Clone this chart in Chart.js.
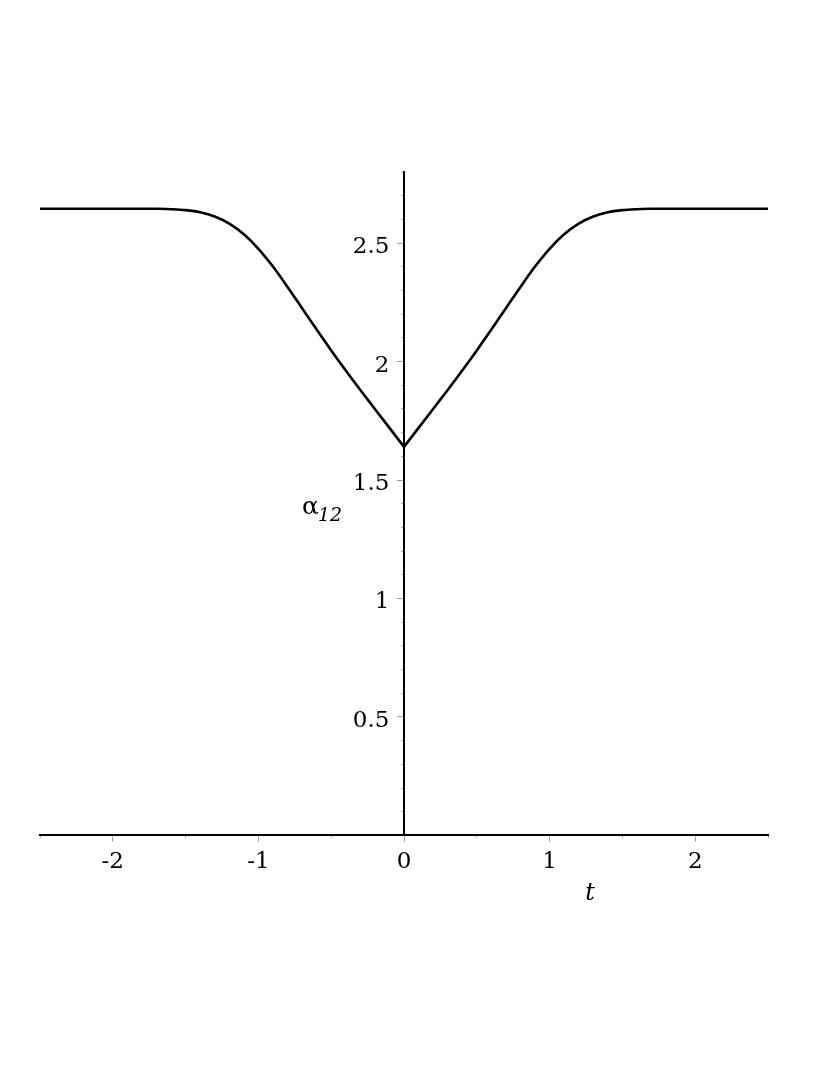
<!DOCTYPE html>
<html>
<head>
<meta charset="utf-8">
<title>alpha12(t)</title>
<script src="https://cdn.jsdelivr.net/npm/chart.js@4"></script>
<style>
  html, body { margin: 0; padding: 0; background: #fff; }
  #plot { display: block; }
</style>
</head>
<body>
<canvas id="plot" width="830" height="1075"></canvas>
<script>
// values (curve is symmetric, cusp at t = 0)
const tValues = [
  -2.5, -2.4, -2.3, -2.2, -2.1, -2.0, -1.9, -1.8, -1.7, -1.6,
  -1.5, -1.4, -1.3, -1.2, -1.1, -1.0, -0.9, -0.8, -0.7, -0.6,
  -0.5, -0.4, -0.3, -0.2, -0.1, 0.0, 0.1, 0.2, 0.3, 0.4,
  0.5, 0.6, 0.7, 0.8, 0.9, 1.0, 1.1, 1.2, 1.3, 1.4,
  1.5, 1.6, 1.7, 1.8, 1.9, 2.0, 2.1, 2.2, 2.3, 2.4, 2.5
];
const alphaValues = [
  2.645, 2.645, 2.645, 2.645, 2.645, 2.645, 2.645, 2.645, 2.645, 2.643,
  2.639, 2.630, 2.612, 2.582, 2.537, 2.476, 2.401, 2.315, 2.225, 2.135,
  2.047, 1.962, 1.880, 1.800, 1.720, 1.640, 1.720, 1.800, 1.880, 1.962,
  2.047, 2.135, 2.225, 2.315, 2.401, 2.476, 2.537, 2.582, 2.612, 2.630,
  2.639, 2.643, 2.645, 2.645, 2.645, 2.645, 2.645, 2.645, 2.645, 2.645, 2.645
];

const xMajorTicks = [-2, -1, 0, 1, 2];
const yMajorTicks = [0.5, 1, 1.5, 2, 2.5];

const tickFont = { family: "DejaVu Serif", size: 23 };

function branch(keep) {
  const pts = [];
  tValues.forEach((t, i) => {
    if (keep(t)) pts.push({ x: t, y: alphaValues[i] });
  });
  return pts;
}

function isMajor(list, v) {
  return list.some((m) => Math.abs(m - v) < 1e-6);
}

const lineStyle = {
  borderColor: "#000",
  borderWidth: 2.6,
  pointRadius: 0,
  fill: false,
  cubicInterpolationMode: "monotone",
  xAxisID: "x",
  yAxisID: "y",
};

// axis titles: alpha with italic subscript 12, and italic t
const axisTitles = {
  id: "axisTitles",
  afterDraw(chart) {
    const ctx = chart.ctx;
    const xs = chart.scales.x;
    const ys = chart.scales.y;
    const x0 = xs.getPixelForValue(0);
    ctx.save();
    ctx.fillStyle = "#000";
    ctx.textAlign = "left";
    ctx.textBaseline = "alphabetic";
    ctx.font = '25px "DejaVu Serif"';
    const base = ys.getPixelForValue(1.39) + 8;
    ctx.fillText("\u03b1", x0 - 102, base);
    ctx.font = 'italic 19px "DejaVu Serif"';
    ctx.fillText("12", x0 - 86, base + 7);
    ctx.font = 'italic 24px "DejaVu Serif"';
    ctx.fillText("t", xs.getPixelForValue(1.245), ys.getPixelForValue(0) + 65);
    ctx.restore();
  },
};

new Chart(document.getElementById("plot"), {
  type: "line",
  data: {
    datasets: [
      Object.assign({ data: branch((t) => t <= 0) }, lineStyle),
      Object.assign({ data: branch((t) => t >= 0) }, lineStyle),
    ],
  },
  options: {
    responsive: false,
    animation: false,
    layout: { padding: { left: 40, right: 62, top: 172, bottom: 192 } },
    plugins: { legend: { display: false }, tooltip: { enabled: false } },
    scales: {
      x: {
        type: "linear",
        position: "bottom",
        min: -2.5,
        max: 2.5,
        ticks: {
          stepSize: 0.5,
          padding: 7,
          color: "#000",
          font: tickFont,
          autoSkip: false,
          maxRotation: 0,
          callback: (v) => (isMajor(xMajorTicks, v) ? String(v) : ""),
        },
        grid: {
          drawOnChartArea: false,
          tickLength: 6,
          tickColor: (c) =>
            c.tick && isMajor(xMajorTicks, c.tick.value) ? "#999" : "rgba(0,0,0,0)",
        },
        border: { color: "#000", width: 2 },
      },
      xm: {
        type: "linear",
        position: { y: 0 },
        min: -2.5,
        max: 2.5,
        ticks: { stepSize: 0.5, display: false },
        grid: { drawOnChartArea: false, tickLength: 3, tickColor: "#aaa" },
        border: { display: false },
      },
      y: {
        type: "linear",
        position: { x: 0 },
        min: 0,
        max: 2.8,
        ticks: {
          stepSize: 0.5,
          labelOffset: 4,
          color: "#000",
          font: tickFont,
          autoSkip: false,
          // trailing spaces keep the right-aligned labels off the axis line
          callback: (v) => (isMajor(yMajorTicks, v) ? String(v) + "  " : ""),
        },
        grid: {
          drawOnChartArea: false,
          tickLength: 6,
          tickColor: (c) =>
            c.tick && isMajor(yMajorTicks, c.tick.value) ? "#999" : "rgba(0,0,0,0)",
        },
        border: { color: "#000", width: 2 },
      },
      ym: {
        type: "linear",
        position: { x: 0 },
        min: 0,
        max: 2.8,
        ticks: { stepSize: 0.1, display: false },
        grid: { drawOnChartArea: false, tickLength: 3, tickColor: "#aaa" },
        border: { display: false },
      },
    },
  },
  plugins: [axisTitles],
});
</script>
</body>
</html>
